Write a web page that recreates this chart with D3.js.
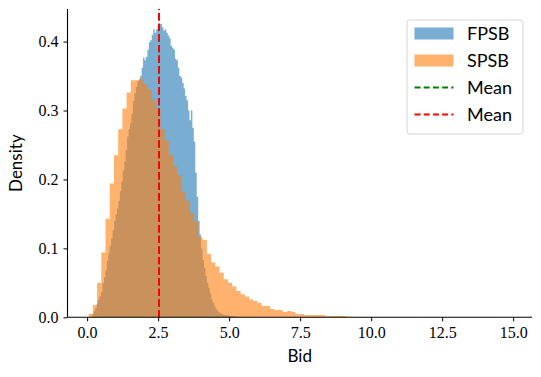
<!DOCTYPE html>
<html>
<head>
<meta charset="utf-8">
<script src="https://cdn.jsdelivr.net/npm/d3@7"></script>
<style>
  body { margin: 0; background: #fff; }
  .tick text { font-family: "Liberation Serif", serif; font-size: 16px; }
  .lbl { font-family: Lato, "DejaVu Sans", sans-serif; font-size: 17px; }
  .leg { font-family: Lato, "DejaVu Sans", sans-serif; font-size: 18px; }
</style>
</head>
<body>
<svg id="chart" width="541" height="377"></svg>
<script>
// histogram densities (100 bins each)
const fpsbRange = [0.183, 5.289]
const fpsb = [
  0.005, 0.009, 0.013, 0.020, 0.026, 0.031, 0.037, 0.050, 0.058, 0.068,
  0.082, 0.093, 0.103, 0.114, 0.127, 0.140, 0.149, 0.158, 0.169, 0.183,
  0.197, 0.213, 0.226, 0.243, 0.262, 0.273, 0.282, 0.295, 0.314, 0.325,
  0.334, 0.342, 0.345, 0.350, 0.362, 0.377, 0.373, 0.378, 0.388, 0.399,
  0.402, 0.410, 0.418, 0.413, 0.418, 0.422, 0.425, 0.426, 0.421, 0.416,
  0.418, 0.413, 0.409, 0.405, 0.394, 0.391, 0.388, 0.375, 0.373, 0.362,
  0.350, 0.348, 0.340, 0.332, 0.321, 0.315, 0.300, 0.286, 0.300, 0.275,
  0.255, 0.210, 0.175, 0.140, 0.120, 0.100, 0.083, 0.072, 0.060, 0.050,
  0.043, 0.035, 0.026, 0.021, 0.016, 0.012, 0.0095, 0.0075, 0.006, 0.0048,
  0.0038, 0.0034, 0.003, 0.0028, 0.0024, 0.002, 0.0018, 0.0015, 0.0012, 0.0008
]
const spsbRange = [0.053, 14.92]
const spsb = [
  0.005, 0.018, 0.050, 0.094, 0.143, 0.194, 0.235, 0.273, 0.303, 0.326,
  0.344, 0.344, 0.346, 0.338, 0.331, 0.315, 0.303, 0.273, 0.256, 0.235,
  0.219, 0.206, 0.182, 0.169, 0.151, 0.139, 0.116, 0.112, 0.092, 0.0795,
  0.0737, 0.0645, 0.0553, 0.050, 0.0446, 0.0383, 0.0335, 0.030, 0.026, 0.0235,
  0.0208, 0.0164, 0.0164, 0.012, 0.0106, 0.0106, 0.0077, 0.009, 0.0077, 0.0048,
  0.0048, 0.0034, 0.0034, 0.0034, 0.0034, 0.0034, 0.002, 0.002, 0.002, 0.002,
  0.002, 0.0008, 0.0007, 0.0006, 0.0005, 0.0004, 0.0004, 0.0003, 0.0003, 0.0002,
  0.0002, 0.0002, 0.0001, 0.0001, 0.0001, 0.0001, 0.0001, 0.00005, 0.00005, 0.00005,
  0.00005, 0.00005, 0, 0.00005, 0, 0, 0.00005, 0, 0, 0,
  0.00005, 0, 0, 0, 0, 0, 0, 0, 0, 0.00005
]
const means = [
  { name: "Mean", value: 2.54, color: "green" },
  { name: "Mean", value: 2.54, color: "red" }
]
const xTicks = [0, 2.5, 5, 7.5, 10, 12.5, 15]
const yTicks = [0, 0.1, 0.2, 0.3, 0.4]

const svg = d3.select("#chart")
const mLeft = 67.5, mRight = 532, mTop = 9, mBottom = 317.3

// matplotlib style 5% margins
const lo = Math.min(fpsbRange[0], spsbRange[0]), hi = Math.max(fpsbRange[1], spsbRange[1])
const pad = (hi - lo) * 0.05
const x = d3.scaleLinear().domain([lo - pad, hi + pad]).range([mLeft, mRight])
const ymax = d3.max(fpsb.concat(spsb)) * 1.05
const y = d3.scaleLinear().domain([0, ymax]).range([mBottom, mTop])

const step = d3.area()
  .x(d => x(d[0]))
  .y0(y(0))
  .y1(d => y(d[1]))
  .curve(d3.curveStepAfter)

function histPoints(vals, range) {
  let w = (range[1] - range[0]) / vals.length
  let pts = vals.map((v, i) => [range[0] + i * w, v])
  pts.push([range[1], vals[vals.length - 1]])
  return pts
}

svg.append("path").attr("d", step(histPoints(fpsb, fpsbRange)))
  .attr("fill", "#1f77b4").attr("fill-opacity", 0.6)
svg.append("path").attr("d", step(histPoints(spsb, spsbRange)))
  .attr("fill", "#ff7f0e").attr("fill-opacity", 0.6)

// vertical mean lines, snapped to whole pixels like Agg does
svg.selectAll(".mean").data(means).enter().append("line")
  .attr("class", "mean")
  .attr("x1", d => Math.round(x(d.value))).attr("x2", d => Math.round(x(d.value)))
  .attr("y1", mBottom).attr("y2", mTop)
  .attr("stroke", d => d.color).attr("stroke-width", 2)
  .attr("stroke-dasharray", "7.4,3.2")

// axes
let xAxis = svg.append("g").attr("transform", `translate(0,${mBottom})`)
  .call(d3.axisBottom(x).tickValues(xTicks).tickFormat(d3.format(".1f")).tickSizeOuter(0).tickSize(4).tickPadding(5))
let yAxis = svg.append("g").attr("transform", `translate(${mLeft},0)`)
  .call(d3.axisLeft(y).tickValues(yTicks).tickFormat(d3.format(".1f")).tickSizeOuter(0).tickSize(4).tickPadding(5))
xAxis.select(".domain").attr("d", `M${mLeft},0H${mRight}`)
yAxis.select(".domain").attr("d", `M0,${mBottom}V${mTop}`)
svg.selectAll(".domain").attr("stroke-width", 1.1)
svg.selectAll(".tick line").attr("stroke-width", 1)
svg.selectAll(".tick text").attr("fill", "#000")

svg.append("text").attr("class", "lbl").attr("x", (mLeft + mRight) / 2).attr("y", 362)
  .attr("text-anchor", "middle").text("Bid")
svg.append("text").attr("class", "lbl")
  .attr("transform", `translate(22,${(mTop + mBottom) / 2}) rotate(-90)`)
  .attr("text-anchor", "middle").text("Density")

// legend
let lg = svg.append("g").attr("transform", "translate(407,20)")
lg.append("rect").attr("width", 116).attr("height", 114).attr("rx", 3)
  .attr("fill", "#fff").attr("fill-opacity", 0.8).attr("stroke", "#d5d5d5")
const legendItems = [
  { label: "FPSB", type: "patch", color: "#1f77b4" },
  { label: "SPSB", type: "patch", color: "#ff7f0e" },
  { label: means[0].name, type: "line", color: means[0].color },
  { label: means[1].name, type: "line", color: means[1].color }
]
legendItems.forEach((d, i) => {
  let cy = 13.5 + i * 27
  if (d.type === "patch") {
    lg.append("rect").attr("x", 7.5).attr("y", cy - 6).attr("width", 39).attr("height", 12)
      .attr("fill", d.color).attr("fill-opacity", 0.6)
  } else {
    lg.append("line").attr("x1", 7.5).attr("x2", 46.5).attr("y1", cy).attr("y2", cy)
      .attr("stroke", d.color).attr("stroke-width", 2).attr("stroke-dasharray", "6,3.2")
  }
  lg.append("text").attr("class", "leg").attr("x", 60).attr("y", cy + 6.5).text(d.label)
})
</script>
</body>
</html>
